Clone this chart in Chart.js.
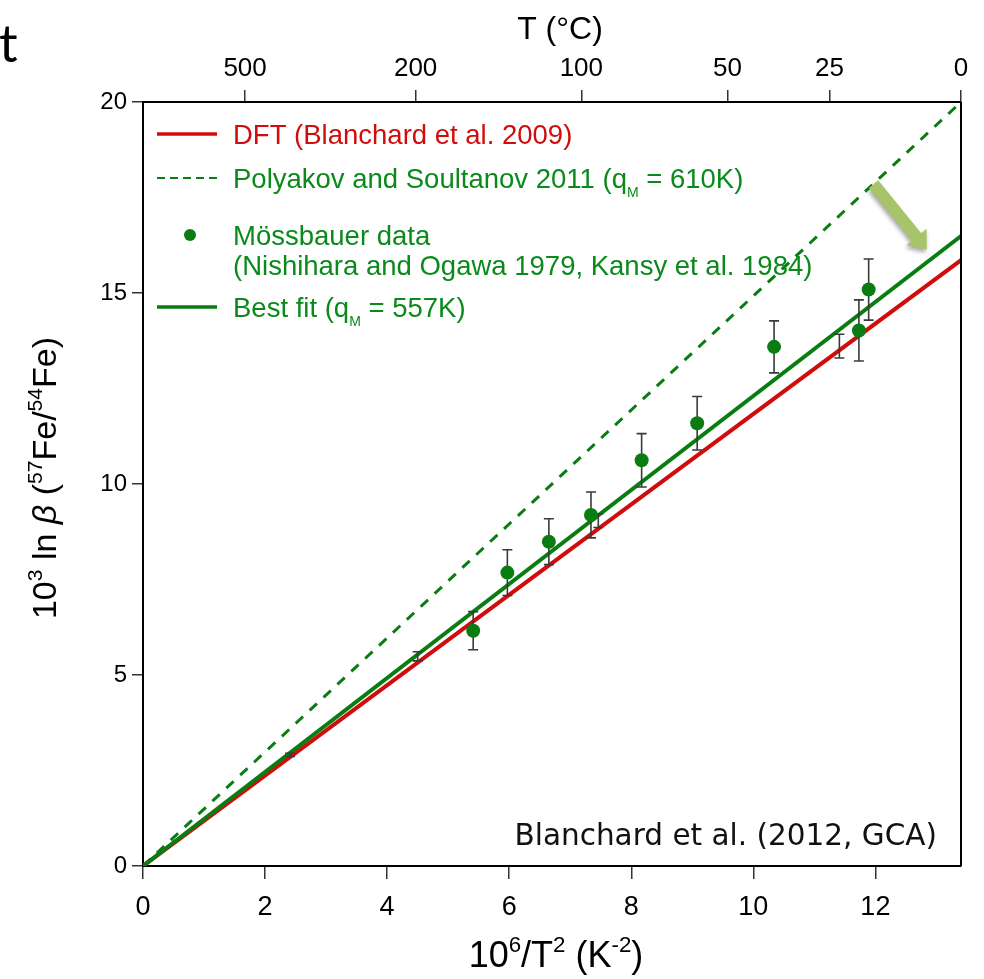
<!DOCTYPE html>
<html lang="en">
<head>
    <meta charset="UTF-8">
    <title>Fe isotope fractionation vs 1/T²</title>
    <script src="https://cdn.jsdelivr.net/npm/chart.js"></script>
    <style>
        body { margin: 0; background: #fff; }
        #chart { display: block; }
    </style>
</head>
<body>
    <canvas id="chart" width="984" height="979"></canvas>

    <script>
        // axis ticks
        const xTicks = [0, 2, 4, 6, 8, 10, 12];
        const yTicks = [0, 5, 10, 15, 20];
        const topTempC = [500, 200, 100, 50, 25, 0]; // T in °C on the top axis
        const xMax = 1e6 / (273.15 * 273.15);         // 0 °C

        // model lines, 10^6/T^2 vs 10^3 ln beta
        const lineX = [0, xMax];
        const dftY = [0, 15.86];
        const polyakovY = [0, 20.0];
        const bestFitY = [0, 16.49];

        // Mössbauer data with 1-sigma bars
        const mossX = [5.41, 5.97, 6.65, 7.34, 8.17, 9.08, 10.34, 11.73, 11.89];
        const mossY = [6.16, 7.68, 8.49, 9.19, 10.62, 11.59, 13.59, 14.02, 15.09];
        const mossErr = [0.50, 0.60, 0.60, 0.60, 0.70, 0.70, 0.68, 0.80, 0.80];

        // bars drawn without a marker
        const barX = [2.41, 4.50, 7.46, 11.41];
        const barY = [2.91, 5.49, 9.04, 13.61];
        const barErr = [0.04, 0.12, 0.18, 0.31];

        // arrow from the dashed line down to the best fit (data units)
        const arrowFrom = { x: 11.97, y: 17.85 };
        const arrowTo = { x: 12.84, y: 16.14 };

        const RED = '#d00c0c';
        const GREEN = '#0a7d12';
        const GREEN_TXT = '#0b8a1c';
        const SANS = '"Liberation Sans", Arial, sans-serif';

        Chart.defaults.font.family = SANS;
        Chart.defaults.color = '#000';

        const pts = (xs, ys) => xs.map((x, i) => ({ x: x, y: ys[i] }));

        // draws a run of text pieces; kind: '' | 'sup' | 'sub' | 'it'
        function drawRich(ctx, parts, x, y, size, align, family) {
            family = family || SANS;
            const fontOf = (k, s) => {
                const sz = (k === 'sup' || k === 'sub') ? (s || size * 0.62) : size;
                return (k === 'it' ? 'italic ' : '') + sz + 'px ' + family;
            };
            let total = 0;
            const widths = parts.map(p => {
                ctx.font = fontOf(p[1], p[2]);
                const w = ctx.measureText(p[0]).width;
                total += w;
                return w;
            });
            let cx = align === 'center' ? x - total / 2 : x;
            ctx.textAlign = 'left';
            ctx.textBaseline = 'alphabetic';
            parts.forEach((p, i) => {
                ctx.font = fontOf(p[1], p[2]);
                let dy = 0;
                if (p[1] === 'sup') dy = -size * 0.42;
                if (p[1] === 'sub') dy = size * 0.32;
                ctx.fillText(p[0], cx, y + dy);
                cx += widths[i];
            });
        }

        function errorBars(chart, xs, ys, errs) {
            const ctx = chart.ctx;
            const sx = chart.scales.x, sy = chart.scales.y;
            ctx.save();
            ctx.strokeStyle = '#3a3a3a';
            ctx.lineWidth = 1.6;
            xs.forEach((x, i) => {
                const px = sx.getPixelForValue(x);
                const top = sy.getPixelForValue(ys[i] + errs[i]);
                const bot = sy.getPixelForValue(ys[i] - errs[i]);
                ctx.beginPath();
                ctx.moveTo(px, top); ctx.lineTo(px, bot);
                ctx.moveTo(px - 5, top); ctx.lineTo(px + 5, top);
                ctx.moveTo(px - 5, bot); ctx.lineTo(px + 5, bot);
                ctx.stroke();
            });
            ctx.restore();
        }

        const decorations = {
            id: 'decorations',
            beforeDatasetDraw(chart, args) {
                // bars go over the lines but under the markers
                if (args.index === 0) {
                    errorBars(chart, barX, barY, barErr);
                    errorBars(chart, mossX, mossY, mossErr);
                }
            },
            afterDatasetsDraw(chart) {
                const ctx = chart.ctx;
                const sx = chart.scales.x, sy = chart.scales.y;
                // block arrow
                const x0 = sx.getPixelForValue(arrowFrom.x), y0 = sy.getPixelForValue(arrowFrom.y);
                const x1 = sx.getPixelForValue(arrowTo.x), y1 = sy.getPixelForValue(arrowTo.y);
                const ang = Math.atan2(y1 - y0, x1 - x0);
                const len = Math.hypot(x1 - x0, y1 - y0);
                const shaft = 6, head = 13, headLen = 16;
                ctx.save();
                ctx.translate(x0, y0);
                ctx.rotate(ang);
                ctx.shadowColor = 'rgba(0,0,0,0.35)';
                ctx.shadowBlur = 4;
                ctx.shadowOffsetX = -1;
                ctx.shadowOffsetY = 3;
                ctx.fillStyle = '#a8c46a';
                ctx.beginPath();
                ctx.moveTo(0, -shaft);
                ctx.lineTo(len - headLen, -shaft);
                ctx.lineTo(len - headLen, -head);
                ctx.lineTo(len, 0);
                ctx.lineTo(len - headLen, head);
                ctx.lineTo(len - headLen, shaft);
                ctx.lineTo(0, shaft);
                ctx.closePath();
                ctx.fill();
                ctx.restore();
            },
            afterDraw(chart) {
                const ctx = chart.ctx;
                const a = chart.chartArea;
                ctx.save();
                // right frame edge
                ctx.strokeStyle = '#000';
                ctx.lineWidth = 2;
                ctx.beginPath();
                ctx.moveTo(a.right, a.top);
                ctx.lineTo(a.right, a.bottom);
                ctx.stroke();

                // legend inside the plot
                const lx = a.left + 14, tx = a.left + 90, fs = 27.5;
                ctx.lineWidth = 3.5;
                ctx.strokeStyle = RED;
                ctx.beginPath(); ctx.moveTo(lx, a.top + 32); ctx.lineTo(lx + 60, a.top + 32); ctx.stroke();
                ctx.fillStyle = RED;
                drawRich(ctx, [['DFT (Blanchard et al. 2009)', '']], tx, a.top + 42, fs);

                ctx.strokeStyle = GREEN;
                ctx.lineWidth = 2;
                ctx.setLineDash([8, 5]);
                ctx.beginPath(); ctx.moveTo(lx, a.top + 76); ctx.lineTo(lx + 60, a.top + 76); ctx.stroke();
                ctx.setLineDash([]);
                ctx.fillStyle = GREEN_TXT;
                drawRich(ctx, [['Polyakov and Soultanov 2011 (q', ''], ['M', 'sub', 14], [' = 610K)', '']], tx, a.top + 86, fs);

                ctx.fillStyle = GREEN;
                ctx.beginPath(); ctx.arc(lx + 33, a.top + 133, 6, 0, Math.PI * 2); ctx.fill();
                ctx.fillStyle = GREEN_TXT;
                drawRich(ctx, [['Mössbauer data', '']], tx, a.top + 143, fs);
                drawRich(ctx, [['(Nishihara and Ogawa 1979, Kansy et al. 1984)', '']], tx, a.top + 173, fs);

                ctx.strokeStyle = GREEN;
                ctx.lineWidth = 3.5;
                ctx.beginPath(); ctx.moveTo(lx, a.top + 205); ctx.lineTo(lx + 60, a.top + 205); ctx.stroke();
                drawRich(ctx, [['Best fit (q', ''], ['M', 'sub', 14], [' = 557K)', '']], tx, a.top + 215, fs);

                // source note
                ctx.fillStyle = '#111';
                ctx.font = '29.5px "DejaVu Sans", sans-serif';
                ctx.textAlign = 'right';
                ctx.textBaseline = 'alphabetic';
                ctx.fillText('Blanchard et al. (2012, GCA)', a.right - 24, a.bottom - 21);

                // axis titles
                ctx.fillStyle = '#000';
                drawRich(ctx, [['T (°C)', '']], 560, 39, 32, 'center');
                drawRich(ctx, [['10', ''], ['6', 'sup'], ['/T', ''], ['2', 'sup'], [' (K', ''], ['-2', 'sup'], [')', '']],
                    556, 967, 36, 'center');
                ctx.save();
                ctx.translate(56, 478);
                ctx.rotate(-Math.PI / 2);
                drawRich(ctx, [['10', ''], ['3', 'sup'], [' ln ', ''], ['β', 'it'], [' (', ''], ['57', 'sup'],
                    ['Fe/', ''], ['54', 'sup'], ['Fe)', '']], 0, 0, 34, 'center');
                ctx.restore();

                // cut-off letter at the top left
                ctx.font = '52px Lato, sans-serif';
                ctx.textAlign = 'left';
                ctx.fillText('t', -1, 62);
                ctx.restore();
            }
        };

        const tickGrid = (len) => ({
            drawOnChartArea: false,
            drawTicks: true,
            tickLength: len,
            color: '#333',
            lineWidth: 1.5
        });
        const frame = { display: true, color: '#000', width: 2 };

        new Chart(document.getElementById('chart'), {
            type: 'scatter',
            data: {
                datasets: [
                    {
                        label: 'Mössbauer data',
                        data: pts(mossX, mossY),
                        pointRadius: 7,
                        pointBackgroundColor: GREEN,
                        pointBorderWidth: 0,
                        showLine: false,
                        order: 0
                    },
                    {
                        label: 'other data',
                        data: pts(barX, barY),
                        pointRadius: 0,
                        showLine: false,
                        order: 1
                    },
                    {
                        label: 'Best fit',
                        data: pts(lineX, bestFitY),
                        showLine: true,
                        borderColor: GREEN,
                        borderWidth: 4,
                        pointRadius: 0,
                        order: 2
                    },
                    {
                        label: 'DFT',
                        data: pts(lineX, dftY),
                        showLine: true,
                        borderColor: RED,
                        borderWidth: 4,
                        pointRadius: 0,
                        order: 3
                    },
                    {
                        label: 'Polyakov and Soultanov 2011',
                        data: pts(lineX, polyakovY),
                        showLine: true,
                        borderColor: GREEN,
                        borderWidth: 3,
                        borderDash: [10, 9],
                        pointRadius: 0,
                        order: 4
                    }
                ]
            },
            options: {
                responsive: false,
                animation: false,
                layout: { padding: { left: 0, right: 23, top: 0, bottom: 0 } },
                plugins: {
                    legend: { display: false },
                    tooltip: { enabled: false }
                },
                scales: {
                    x: {
                        type: 'linear',
                        position: 'bottom',
                        min: 0,
                        max: xMax,
                        afterBuildTicks: s => { s.ticks = xTicks.map(v => ({ value: v })); },
                        afterFit: s => { s.height = 113; },
                        grid: tickGrid(13),
                        border: frame,
                        ticks: { font: { size: 27 }, padding: 12, maxRotation: 0 }
                    },
                    xTop: {
                        type: 'linear',
                        position: 'top',
                        min: 0,
                        max: xMax,
                        afterBuildTicks: s => {
                            s.ticks = topTempC.map(c => ({ value: 1e6 / ((c + 273.15) * (c + 273.15)) }));
                        },
                        afterFit: s => { s.height = 102; },
                        grid: tickGrid(12),
                        border: frame,
                        ticks: {
                            font: { size: 26 },
                            padding: 6,
                            maxRotation: 0,
                            callback: (v, i) => String(topTempC[i])
                        }
                    },
                    y: {
                        type: 'linear',
                        min: 0,
                        max: 20,
                        afterBuildTicks: s => { s.ticks = yTicks.map(v => ({ value: v })); },
                        afterFit: s => { s.width = 143; },
                        grid: tickGrid(11),
                        border: frame,
                        ticks: { font: { size: 24 }, padding: 5 }
                    }
                }
            },
            plugins: [decorations]
        });
    </script>
</body>
</html>
